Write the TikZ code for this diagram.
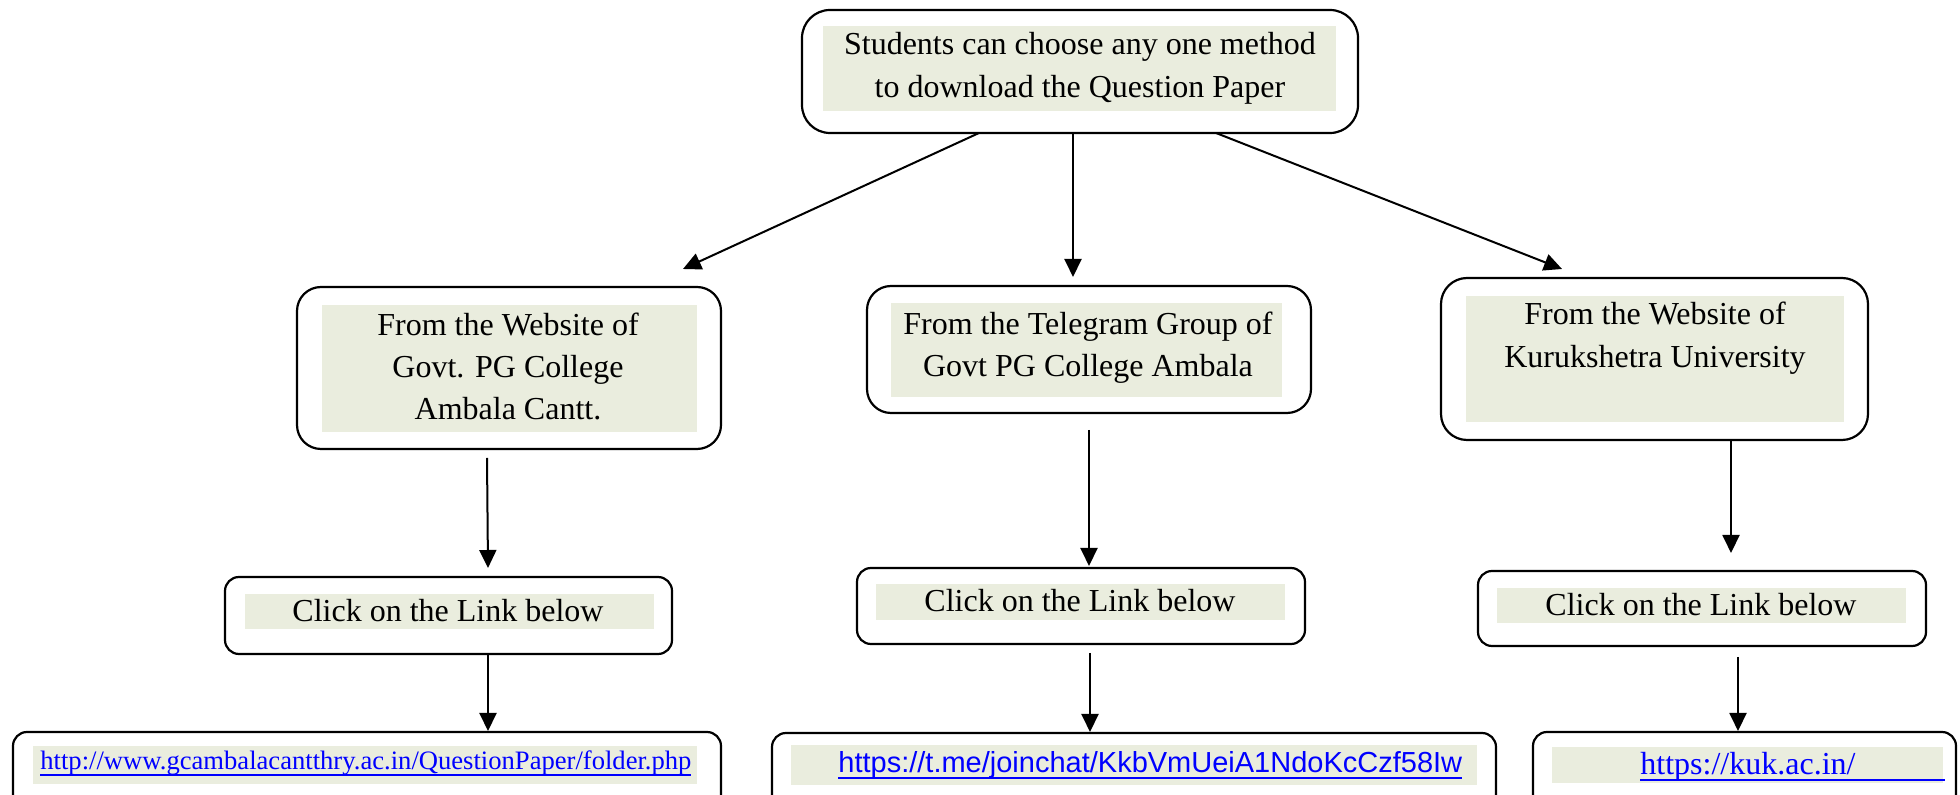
\documentclass[tikz,border=0pt]{standalone}
\usepackage{fontspec}
\setmainfont{Liberation Serif}
\newfontfamily\linksans{Liberation Sans}
\usetikzlibrary{arrows.meta,fit}
\definecolor{bgreen}{RGB}{234,237,222}
\definecolor{linkblue}{RGB}{0,0,255}
\newcommand\ulk[2][0pt]{\setbox0\hbox{#2}\rlap{\rule[-3pt]{\dimexpr\wd0+#1\relax}{1.1pt}}\box0}
\begin{document}
\begin{tikzpicture}[x=0.5pt,y=-0.5pt,
  box/.style={draw, line width=1.1pt, rounded corners=#1, inner sep=0pt, outer sep=0pt},
  box/.default=12pt,
  bg/.style={fill=bgreen, inner sep=0pt, outer sep=0pt},
  txt/.style={inner sep=0pt, align=center, anchor=base, font=\fontsize{16pt}{21.5pt}\selectfont},
  txtb/.style={txt, font=\fontsize{16pt}{21pt}\selectfont},
  arr/.style={line width=1pt, -{Triangle[length=9pt,width=8.5pt]}},
  lnk/.style={inner sep=0pt, text=linkblue}]
\useasboundingbox (0,0) rectangle (1960,795);
\clip (0,0) rectangle (1960,795);

% green backgrounds
\node[bg, fit={(823,26) (1336,111)}] (topbg) {};
\node[bg, fit={(322,305) (697,432)}] (b1bg) {};
\node[bg, fit={(891,303) (1282,397)}] (b2bg) {};
\node[bg, fit={(1466,296) (1844,422)}] (b3bg) {};
\node[bg, fit={(245,594) (654,629)}] (c1bg) {};
\node[bg, fit={(876,584) (1285,620)}] (c2bg) {};
\node[bg, fit={(1497,588) (1906,623)}] (c3bg) {};
\node[bg, fit={(33,746) (697,784)}] (l1bg) {};
\node[bg, fit={(791,745) (1477,785)}] (l2bg) {};
\node[bg, fit={(1552,747) (1943,783)}] (l3bg) {};

% outer boxes
\node[box=14pt, fit={(802,10) (1358,133)}] (top) {};
\node[box=12pt, fit={(297,287) (721,449)}] (b1) {};
\node[box=12pt, fit={(867,286) (1311,413)}] (b2) {};
\node[box=13pt, fit={(1441,278) (1868,440)}] (b3) {};
\node[box=7pt, fit={(225,577) (672,654)}] (c1) {};
\node[box=7pt, fit={(857,568) (1305,644)}] (c2) {};
\node[box=7pt, fit={(1478,571) (1926,646)}] (c3) {};
\node[box=7pt, fit={(13,732) (721,840)}] (l1) {};
\node[box=7pt, fit={(772,733) (1496,840)}] (l2) {};
\node[box=7pt, fit={(1533,732) (1956,840)}] (l3) {};

% texts (base anchor = baseline of the last line)
\node[txt] (toptxt) at (1080,98) {Students can choose any one method\\to download the Question Paper};
\node[txtb] (b1txt) at (508,420) {From the Website of\\Govt. PG College\\Ambala Cantt.};
\node[txtb] (b2txt) at (1088,377) {From the Telegram Group of\\Govt PG College Ambala};
\node[txt] (b3txt) at (1655,368) {From the Website of\\Kurukshetra University};
\node[txt] (c1txt) at (448,622) {Click on the Link below};
\node[txt] (c2txt) at (1080,612) {Click on the Link below};
\node[txt] (c3txt) at (1701,616) {Click on the Link below};
\node[lnk, anchor=base west, font=\fontsize{13.3pt}{16pt}\selectfont] (l1txt) at (40,770)
  {\ulk{http://www.gcambalacantthry.ac.in/QuestionPaper/folder.php}};
\node[lnk, anchor=base west, font=\linksans\fontsize{14.5pt}{17pt}\selectfont] (l2txt) at (838,773)
  {\ulk{https://t.me/joinchat/KkbVmUeiA1NdoKcCzf58Iw}};
\node[lnk, anchor=base west, font=\fontsize{16pt}{19pt}\selectfont] (l3txt) at (1640,775)
  {\ulk[44.5pt]{https://kuk.ac.in/}};

% connector end points
\coordinate (a1s) at (979,133);  \coordinate (a1e) at (683,269);
\coordinate (a2s) at (1073,133); \coordinate (a2e) at (1073,277);
\coordinate (a3s) at (1216,133); \coordinate (a3e) at (1562,269);
\coordinate (a4s) at (487,458);  \coordinate (a4e) at (488,568);
\coordinate (a5s) at (1089,430); \coordinate (a5e) at (1089,566);
\coordinate (a6s) at (1731,440); \coordinate (a6e) at (1731,553);
\coordinate (a7s) at (488,654);  \coordinate (a7e) at (488,731);
\coordinate (a8s) at (1090,653); \coordinate (a8e) at (1090,732);
\coordinate (a9s) at (1738,657); \coordinate (a9e) at (1738,731);

\draw[arr] (a1s) -- (a1e);
\draw[arr] (a2s) -- (a2e);
\draw[arr] (a3s) -- (a3e);
\draw[arr] (a4s) -- (a4e);
\draw[arr] (a5s) -- (a5e);
\draw[arr] (a6s) -- (a6e);
\draw[arr] (a7s) -- (a7e);
\draw[arr] (a8s) -- (a8e);
\draw[arr] (a9s) -- (a9e);
\end{tikzpicture}
\end{document}
